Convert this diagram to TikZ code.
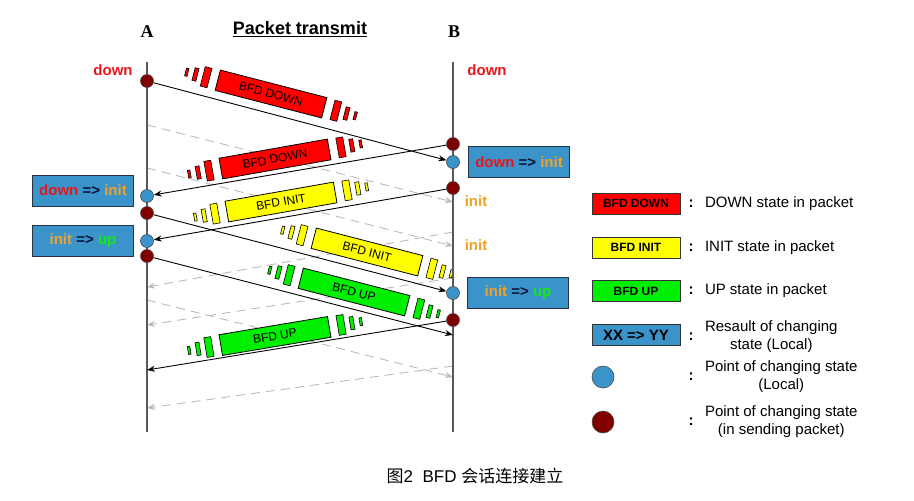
\documentclass[tikz,border=0pt]{standalone}
\usepackage{fontspec}
\setmainfont{Liberation Sans}
\newfontfamily\labelserif{Liberation Serif}
\newfontfamily\cjk{Noto Sans CJK SC}
\usepackage{xcolor}
\usetikzlibrary{arrows.meta, positioning}

\definecolor{pktred}{RGB}{255,0,0}
\definecolor{pktyellow}{RGB}{255,255,0}
\definecolor{pktgreen}{RGB}{0,238,0}
\definecolor{stateblue}{RGB}{58,148,202}
\definecolor{dotred}{RGB}{128,0,0}
\definecolor{boxedge}{RGB}{40,48,70}
\definecolor{txtred}{RGB}{232,22,28}
\definecolor{txtorange}{RGB}{240,162,40}
\definecolor{txtgreen}{RGB}{20,232,20}
\definecolor{txtdark}{RGB}{10,20,60}

\begin{document}
\begin{tikzpicture}[
  x=1pt, y=-1pt,
  lifeline/.style={draw=black!65, line width=1.2pt},
  msg/.style={-{Stealth[length=8pt,width=6pt]}, line width=0.9pt, draw=black},
  ghost/.style={-{Stealth[length=8pt,width=6pt]}, line width=0.9pt,
                draw=black!27, dash pattern=on 9pt off 6pt},
  senddot/.style={circle, draw=black!70, fill=dotred, minimum size=13pt,
                  inner sep=0pt, line width=0.6pt},
  localdot/.style={circle, draw=black!70, fill=stateblue, minimum size=13pt,
                   inner sep=0pt, line width=0.6pt},
  statebox/.style={draw=boxedge, fill=stateblue, line width=1pt,
                   minimum width=101pt, minimum height=31pt, inner sep=0pt,
                   font=\fontsize{15}{18}\selectfont\bfseries},
  statelbl/.style={font=\fontsize{15}{18}\selectfont\bfseries, inner sep=0pt},
  endlbl/.style={font=\fontsize{18}{20}\selectfont\bfseries\labelserif},
  pktbox/.style={draw=black, line width=0.8pt, minimum width=110pt,
                 minimum height=21pt, inner sep=0pt,
                 font=\fontsize{12}{14}\selectfont},
  pktbar/.style={draw=black, line width=0.6pt},
  legbox/.style={draw=black!80, line width=0.8pt, minimum width=88pt,
                 minimum height=21pt, inner sep=0pt,
                 font=\fontsize{12}{14}\selectfont\bfseries},
  colon/.style={font=\fontsize{15}{18}\selectfont\bfseries, inner sep=0pt},
  legtext/.style={font=\fontsize{15}{18}\selectfont, inner sep=0pt, align=center},
  pics/packet/.style 2 args={code={
    \node[pktbox, fill=#1] {#2};
    \foreach \s in {-1,1} {
      \filldraw[pktbar, fill=#1] ({\s*67-3.5},-10) rectangle ++(7,20);
      \filldraw[pktbar, fill=#1] ({\s*78-2},-6.5) rectangle ++(4,13);
      \filldraw[pktbar, fill=#1] ({\s*87-1.25},-4) rectangle ++(2.5,8);
    }
  }},
]
\useasboundingbox (0,0) rectangle (914,501);

% Headings
\node[endlbl] (enda) at (147,32) {A};
\node[endlbl] (endb) at (454,32) {B};
\node[font=\fontsize{18}{20}\selectfont\bfseries] (title) at (300,29)
  {\underline{Packet transmit}};
\node[statelbl, text=txtred] (downa) at (113,70) {down};
\node[statelbl, text=txtred] (downb) at (487,70) {down};

% Lifelines
\coordinate (atop) at (147,62);
\coordinate (abot) at (147,432);
\coordinate (btop) at (453,62);
\coordinate (bbot) at (453,432);

% Periodic packets (grey)
\coordinate (ga1) at (147,125);  \coordinate (gb1) at (453,202);
\coordinate (ga2) at (147,168);  \coordinate (gb2) at (453,246);
\coordinate (gb3) at (453,232);  \coordinate (ga3) at (147,287);
\coordinate (gb4) at (453,278);  \coordinate (ga4) at (147,325);
\coordinate (ga5) at (147,300);  \coordinate (gb5) at (453,377);
\coordinate (gb6) at (453,366);  \coordinate (ga6) at (147,408);
\draw[ghost] (ga1) -- (gb1);
\draw[ghost] (ga2) -- (gb2);
\draw[ghost] (gb3) -- (ga3);
\draw[ghost] (gb4) -- (ga4);
\draw[ghost] (ga5) -- (gb5);
\draw[ghost] (gb6) -- (ga6);

% Packets in flight
\pic[rotate=-14.5, transform shape] (pkt1) at (271,94) {packet={pktred}{BFD DOWN}};
\pic[rotate=10, transform shape] (pkt2) at (275,159) {packet={pktred}{BFD DOWN}};
\pic[rotate=10, transform shape] (pkt3) at (281,202) {packet={pktyellow}{BFD INIT}};
\pic[rotate=-14.5, transform shape] (pkt4) at (367,252) {packet={pktyellow}{BFD INIT}};
\pic[rotate=-14.5, transform shape] (pkt5) at (354,292) {packet={pktgreen}{BFD UP}};
\pic[rotate=9.5, transform shape] (pkt6) at (275,336) {packet={pktgreen}{BFD UP}};

\draw[lifeline] (atop) -- (abot);
\draw[lifeline] (btop) -- (bbot);

% State change points
\node[senddot] (a1) at (147,81) {};
\node[senddot] (b0) at (453,144) {};
\node[localdot] (b1) at (453,162) {};
\node[localdot] (a2) at (147,196) {};
\node[senddot] (b2) at (453,188) {};
\node[senddot] (a3) at (147,213) {};
\node[localdot] (a4) at (147,241) {};
\node[senddot] (a5) at (147,256) {};
\node[localdot] (b3) at (453,293) {};
\node[senddot] (b4) at (453,320) {};
\coordinate (b5) at (453,335);
\coordinate (a6) at (147,370);

\draw[msg] (a1) -- (b1);
\draw[msg] (b0) -- (a2);
\draw[msg] (b2) -- (a4);
\draw[msg] (a3) -- (b3);
\draw[msg] (a5) -- (b5);
\draw[msg] (b4) -- (a6);

% Local results
\node[statebox] (resb1) at (519,162)
  {\textcolor{txtred}{down} \textcolor{txtdark}{=>} \textcolor{txtorange}{init}};
\node[statebox] (resa1) at (83,190.5)
  {\textcolor{txtred}{down} \textcolor{txtdark}{=>} \textcolor{txtorange}{init}};
\node[statebox] (resa2) at (83,241)
  {\textcolor{txtorange}{init} \textcolor{txtdark}{=>} \textcolor{txtgreen}{up}};
\node[statebox] (resb2) at (518,293)
  {\textcolor{txtorange}{init} \textcolor{txtdark}{=>} \textcolor{txtgreen}{up}};
\node[statelbl, text=txtorange] (initb1) at (476,201) {init};
\node[statelbl, text=txtorange] (initb2) at (476,245) {init};

% Legend
\node[legbox, fill=pktred] (legdown) at (636,203.5) {BFD DOWN};
\node[legbox, fill=pktyellow] (leginit) at (636,247.5) {BFD INIT};
\node[legbox, fill=pktgreen] (legup) at (636,291) {BFD UP};
\node[legbox, fill=stateblue, font=\fontsize{15}{18}\selectfont\bfseries]
  (legstate) at (636,335) {XX => YY};
\node[localdot, minimum size=22pt] (legloc) at (603,377) {};
\node[senddot, minimum size=22pt] (legsend) at (603,422) {};

\node[colon, right=8pt of legdown] (coldown) {:};
\node[colon, right=8pt of leginit] (colinit) {:};
\node[colon, right=8pt of legup] (colup) {:};
\node[colon, right=8pt of legstate, yshift=-2pt] (colstate) {:};
\node[colon] (colloc) at (coldown |- legloc) {:};
\node[colon] (colsend) at (coldown |- legsend) {:};

\node[legtext, right=11pt of coldown] (txtdown) {DOWN state in packet};
\node[legtext, right=11pt of colinit] (txtinit) {INIT state in packet};
\node[legtext, right=11pt of colup] (txtup) {UP state in packet};
\node[legtext, anchor=west] (txtstate) at ([xshift=11pt,yshift=0pt]colstate.east)
  {Resault of changing\\state (Local)};
\node[legtext, anchor=west] (txtloc) at ([xshift=11pt]colloc.east)
  {Point of changing state\\(Local)};
\node[legtext, anchor=west] (txtsend) at ([xshift=11pt]colsend.east)
  {Point of changing state\\(in sending packet)};

% Caption
\node[font=\fontsize{17}{20}\selectfont] (caption) at (475,476)
  {{\cjk 图}2\ \ BFD {\cjk 会话连接建立}};
\end{tikzpicture}
\end{document}
